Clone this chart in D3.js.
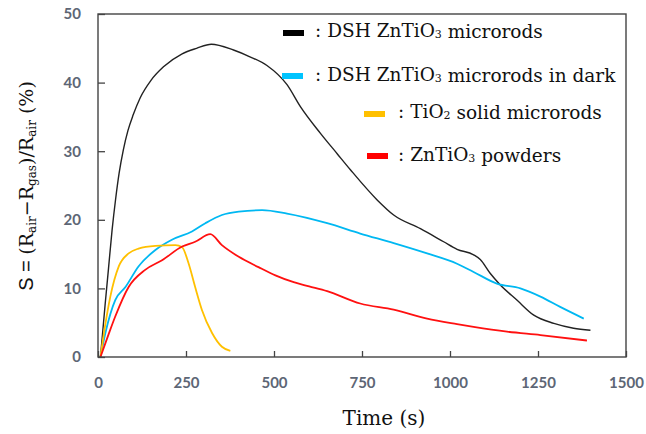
<!DOCTYPE html>
<html>
<head>
<meta charset="utf-8">
<script src="https://cdn.jsdelivr.net/npm/d3@7"></script>
<style>
  body { margin: 0; background: #fff; }
  svg { display: block; }
</style>
</head>
<body>
<svg id="chart" width="646" height="434"></svg>
<script>
// data
const blackTime = [7, 20, 30, 40, 50, 60, 72, 85, 100, 120, 150, 186, 239, 280, 322, 385, 430, 480, 537, 575, 632, 680, 717, 793, 840, 916, 982, 1020, 1067, 1086, 1114, 1143, 1190, 1238, 1295, 1351, 1399];
const blackS    = [0, 7.5, 13, 18.5, 23, 26.8, 30.2, 33, 35.3, 37.8, 40.3, 42.3, 44.2, 45.0, 45.6, 44.75, 43.8, 42.5, 39.7, 36.5, 32.6, 29.6, 27.3, 22.9, 20.7, 18.7, 16.8, 15.7, 14.9, 14.2, 12.2, 10.5, 8.3, 6.1, 4.9, 4.2, 3.9];

const cyanTime = [7, 21, 49, 78, 115, 163, 210, 267, 305, 352, 400, 466, 537, 651, 745, 840, 935, 1020, 1067, 1133, 1200, 1257, 1313, 1380];
const cyanS    = [0, 3.5, 8.3, 10.2, 13.2, 15.6, 17.1, 18.3, 19.5, 20.7, 21.2, 21.4, 20.9, 19.5, 18.0, 16.6, 15.1, 13.6, 12.4, 10.7, 10.0, 8.8, 7.3, 5.6];

const yellowTime = [7, 20, 35, 59, 87, 115, 163, 220, 239, 257, 276, 295, 324, 352, 376];
const yellowS    = [0, 4.5, 8.8, 13.2, 15.1, 15.8, 16.2, 16.3, 16.0, 13.7, 10.2, 6.9, 3.5, 1.5, 0.9];

const redTime = [7, 30, 49, 87, 134, 182, 239, 276, 319, 352, 400, 456, 504, 556, 600, 651, 745, 840, 935, 1020, 1067, 1162, 1257, 1389];
const redS    = [0, 3.3, 5.9, 10.2, 12.7, 14.1, 16.1, 16.8, 17.9, 16.3, 14.6, 13.1, 11.9, 10.9, 10.3, 9.6, 7.8, 6.9, 5.6, 4.8, 4.4, 3.7, 3.2, 2.4];

const xTicks = [0, 250, 500, 750, 1000, 1250, 1500];
const yTicks = [0, 10, 20, 30, 40, 50];

const series = [
  { name: "DSH ZnTiO3 microrods", color: "#222", swatch: "#000", time: blackTime, s: blackS },
  { name: "DSH ZnTiO3 microrods in dark", color: "#00b8f2", swatch: "#00c4ff", time: cyanTime, s: cyanS },
  { name: "TiO2 solid microrods", color: "#ffc000", swatch: "#ffc000", time: yellowTime, s: yellowS },
  { name: "ZnTiO3 powders", color: "#ff1010", swatch: "#ff0000", time: redTime, s: redS }
];

const margin = { top: 14, left: 98, bottom: 77, right: 20 };
const width = 646 - margin.left - margin.right;   // 528
const height = 434 - margin.top - margin.bottom;  // 343

const svg = d3.select("#chart");
const g = svg.append("g").attr("transform", `translate(${margin.left},${margin.top})`);

const x = d3.scaleLinear().domain([0, 1500]).range([0, width]);
const y = d3.scaleLinear().domain([0, 50]).range([height, 0]);

const tickColor = "#5d6675";
const tickFont = "Lato, 'Open Sans', sans-serif";

// lines
const line = d3.line().x(d => x(d[0])).y(d => y(d[1])).curve(d3.curveMonotoneX);
for (let sr of series) {
  const pts = sr.time.map((t, i) => [t, sr.s[i]]);
  g.append("path")
    .datum(pts)
    .attr("fill", "none")
    .attr("stroke", sr.color)
    .attr("stroke-width", sr.color === "#222" ? 1.4 : 1.8)
    .attr("stroke-linejoin", "round")
    .attr("d", line);
}

// frame
g.append("rect")
  .attr("width", width).attr("height", height)
  .attr("fill", "none").attr("stroke", "#444").attr("stroke-width", 1.4);

// x axis (ticks pointing inward)
const xAxis = g.append("g").attr("transform", `translate(0,${height})`)
  .call(d3.axisBottom(x).tickValues(xTicks).tickFormat(d3.format("d"))
    .tickSize(-6).tickPadding(20).tickSizeOuter(0));
xAxis.select(".domain").remove();
xAxis.selectAll("line").attr("stroke", "#444").attr("stroke-width", 1.3);
xAxis.selectAll("text")
  .attr("font-family", tickFont).attr("font-size", "15px").attr("font-weight", "bold")
  .attr("fill", tickColor);

// y axis (ticks pointing inward)
const yAxis = g.append("g")
  .call(d3.axisLeft(y).tickValues(yTicks).tickSize(-7).tickPadding(17).tickSizeOuter(0));
yAxis.select(".domain").remove();
yAxis.selectAll("line").attr("stroke", "#444").attr("stroke-width", 1.3);
yAxis.selectAll("text")
  .attr("font-family", tickFont).attr("font-size", "15px").attr("font-weight", "bold")
  .attr("fill", tickColor);

// axis titles
const serif = "'DejaVu Serif', 'Liberation Serif', serif";
svg.append("text")
  .attr("x", 384).attr("y", 425)
  .attr("text-anchor", "middle")
  .attr("font-family", serif).attr("font-size", "20px").attr("fill", "#111")
  .text("Time (s)");

const yt = svg.append("text")
  .attr("transform", "translate(33,186) rotate(-90)")
  .attr("text-anchor", "middle")
  .attr("font-family", serif).attr("font-size", "19px").attr("fill", "#111");
yt.append("tspan").attr("font-family", "'Liberation Sans', Arial, sans-serif").attr("font-size", "20px").text("S = ");
yt.append("tspan").text("(R");
yt.append("tspan").attr("font-size", "12px").attr("dy", 3).text("air");
yt.append("tspan").attr("dy", -3).text("\u2212R");
yt.append("tspan").attr("font-size", "12px").attr("dy", 3).text("gas");
yt.append("tspan").attr("dy", -3).text(")/R");
yt.append("tspan").attr("font-size", "12px").attr("dy", 3).text("air");
yt.append("tspan").attr("dy", -3).text(" (%)");

// legend
const legendPos = [
  { sx: 283, sy: 33, tx: 315, ty: 37 },
  { sx: 282, sy: 76, tx: 315, ty: 81 },
  { sx: 364, sy: 114, tx: 398, ty: 118 },
  { sx: 367, sy: 156, tx: 398, ty: 161 }
];
series.forEach((sr, i) => {
  const p = legendPos[i];
  svg.append("rect")
    .attr("x", p.sx).attr("y", p.sy - 3).attr("width", 21).attr("height", 6)
    .attr("fill", sr.swatch);
  const t = svg.append("text")
    .attr("x", p.tx).attr("y", p.ty)
    .attr("font-family", serif).attr("font-size", "18.5px").attr("fill", "#111");
  // digits become small subscripts
  const parts = sr.name.split(/(\d)/);
  t.append("tspan").text(": ");
  parts.forEach(part => {
    if (/^\d$/.test(part)) {
      t.append("tspan").attr("font-size", "11px").attr("dy", 1).text(part);
      t.append("tspan").attr("dy", -1).text("");
    } else if (part.length) {
      t.append("tspan").text(part);
    }
  });
});
</script>
</body>
</html>
